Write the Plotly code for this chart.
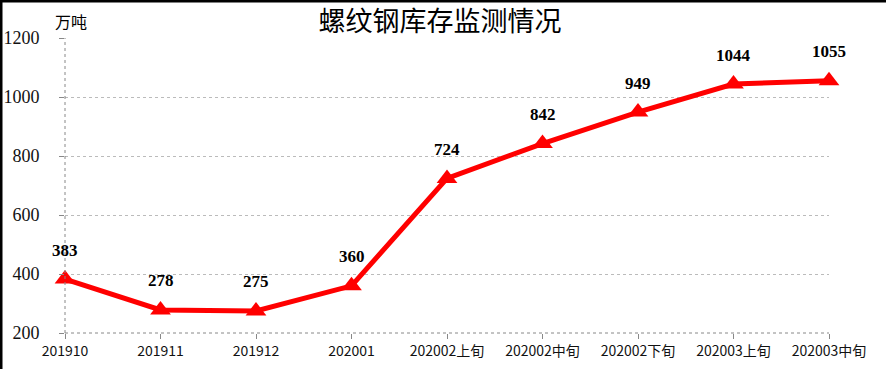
import plotly.graph_objects as go

categories = ["201910", "201911", "201912", "202001", "202002上旬", "202002中旬",
              "202002下旬", "202003上旬", "202003中旬"]
values = [383, 278, 275, 360, 724, 842, 949, 1044, 1055]
y_ticks = [200, 400, 600, 800, 1000, 1200]

W, H = 886, 369
ml, mr, mt, mb = 65, 57, 38, 36
pw, ph = W - ml - mr, H - mt - mb

fig = go.Figure()
fig.add_trace(go.Scatter(
    x=list(range(len(categories))), y=values, mode="lines+markers",
    line=dict(color="#FF0000", width=5),
    marker=dict(symbol="triangle-up", size=18, color="#FF0000"),
    hoverinfo="skip", showlegend=False, cliponaxis=False,
))

for i, v in enumerate(values):
    fig.add_annotation(x=i, y=v, text="<b>%d</b>" % v, showarrow=False, yshift=29,
                       font=dict(family="Liberation Serif, Times New Roman, serif",
                                 size=17, color="#000000"))

fig.update_layout(
    width=W, height=H,
    margin=dict(l=ml, r=mr, t=mt, b=mb, autoexpand=False),
    plot_bgcolor="white", paper_bgcolor="white",
    xaxis=dict(range=[0, len(categories) - 1], tickmode="array",
               tickvals=list(range(len(categories))), ticktext=categories,
               showgrid=False, showline=False, zeroline=False, automargin=False,
               ticks="outside", ticklen=5, tickcolor="#888888",
               tickfont=dict(family="Noto Sans CJK SC, sans-serif", size=14, color="#111111")),
    yaxis=dict(range=[200, 1200], tickvals=y_ticks, showgrid=True,
               gridcolor="#BBBBBB", griddash="dot", gridwidth=1,
               showline=False, zeroline=False, automargin=False,
               ticks="outside", ticklen=5, tickcolor="#888888", ticklabelstandoff=16,
               tickfont=dict(family="Liberation Serif, Times New Roman, serif", size=18, color="#111111")),
    title=dict(text="螺纹钢库存监测情况", x=440 / W, xanchor="center",
               y=1 - 22 / H, yanchor="middle",
               font=dict(family="Noto Sans CJK SC, sans-serif", size=27, color="#000000")),
)

# dotted axis lines
fig.add_shape(type="line", xref="paper", yref="paper", x0=0, x1=0, y0=0, y1=1,
              line=dict(color="#888888", width=1, dash="dot"))
fig.add_shape(type="line", xref="paper", yref="paper", x0=0, x1=1, y0=0, y1=0,
              line=dict(color="#888888", width=1, dash="dot"))

fig.add_annotation(xref="paper", yref="paper", x=(53 - ml) / pw, y=1 + 17 / ph, text="万吨",
                   showarrow=False, xanchor="left", yanchor="middle",
                   font=dict(family="Noto Sans CJK SC, sans-serif", size=16, color="#000000"))

# black frame at left and top of the picture
fig.add_shape(type="line", xref="paper", yref="paper",
              x0=-(ml - 1) / pw, x1=-(ml - 1) / pw, y0=-mb / ph, y1=1 + mt / ph,
              line=dict(color="black", width=3))
fig.add_shape(type="line", xref="paper", yref="paper",
              x0=-ml / pw, x1=1 + mr / pw, y0=1 + (mt - 1) / ph, y1=1 + (mt - 1) / ph,
              line=dict(color="black", width=3))

fig.write_html("out.html", config={"displayModeBar": False},
               post_script="document.body.style.margin='0';")
